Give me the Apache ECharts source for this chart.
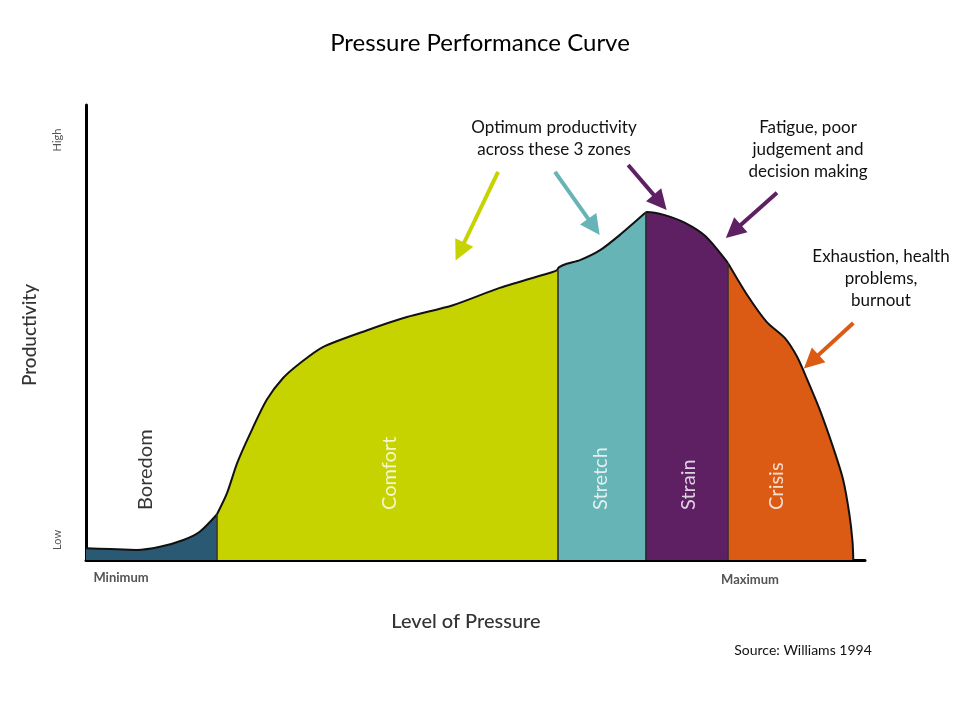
<!DOCTYPE html>
<html><head><meta charset="utf-8">
<script src="https://cdn.jsdelivr.net/npm/echarts@6/dist/echarts.min.js"></script>
<style>html,body{margin:0;padding:0;background:#fff}#c{width:960px;height:720px}</style>
</head><body><div id="c"></div>
<script>
// Zone names and colours
const zoneNames = ['Boredom', 'Comfort', 'Stretch', 'Strain', 'Crisis'];
const zoneColors = ['#2a5a73', '#c6d300', '#67b4b7', '#5e1f63', '#dc5b14'];
const zoneLabelColors = ['#000', '#fff', '#fff', '#fff', '#fff'];
// Curve segments [pressure, productivity] (0-100 scale)
const boredomData = [[0,2.6],[3.1,2.4],[6.5,2.2],[9.5,2.9],[12.5,4.4],[14.6,6.2],[16.8,10.0]];
const comfortData = [[16.8,10.0],[18.1,14.7],[19.4,21.3],[21.1,27.9],[23.2,35.2],[25.3,40.0],[27.5,43.3],[30.4,46.8],[36.1,50.5],[41.2,53.4],[47.1,56.0],[53.1,59.8],[59.9,63.3],[60.5,63.7]];
const stretchData = [[60.5,63.7],[60.7,64.3],[61.7,65.1],[63.4,65.9],[66.0,68.1],[68.5,71.4],[71.8,76.3]];
const strainData = [[71.8,76.3],[72.0,76.5],[74.3,75.8],[76.9,74.1],[79.5,71.2],[82.4,65.3]];
const crisisData = [[82.4,65.3],[84.9,58.2],[87.4,52.3],[89.7,48.8],[91.3,44.6],[92.6,39.6],[94.2,33.0],[95.9,24.8],[97.2,17.6],[98.0,10.0],[98.4,4.0],[98.5,0]];
const zoneData = [boredomData, comfortData, stretchData, strainData, crisisData];
// Zone label anchor (text start) positions
const zoneLabelPos = [[7.7,11],[39.0,11],[66.0,11],[77.3,11],[88.6,11]];
// Arrows [from, to] and colours
const arrows = [
  [[52.9,85.3],[48.0,67.8]],
  [[60.2,85.3],[65.2,73.2]],
  [[69.6,86.8],[73.7,78.6]],
  [[88.7,80.7],[83.1,72.2]],
  [[98.5,52.1],[93.1,43.6]]
];
const arrowColors = ['#c6d300', '#67b4b7', '#5e1f63', '#5e1f63', '#dc5b14'];
// Annotation texts
const notes = [
  {lines:['Optimum productivity','across these 3 zones'], x:554, y:128},
  {lines:['Fatigue, poor','judgement and','decision making'], x:808, y:128},
  {lines:['Exhaustion, health','problems,','burnout'], x:881, y:257}
];
const FONT = 'Lato, "Open Sans", sans-serif';

const series = [];
zoneData.forEach((d, i) => {
  const s = {
    type: 'line', data: d, showSymbol: false, smooth: 0.25, z: 2,
    lineStyle: {color: '#111', width: 2},
    areaStyle: {color: zoneColors[i], opacity: 1},
    silent: true
  };
  if (i < zoneData.length - 1) {
    const last = d[d.length - 1];
    s.markLine = {
      silent: true, symbol: 'none', label: {show: false},
      lineStyle: {color: '#2b2b2b', width: 1.5, type: 'solid'},
      data: [[{coord: [last[0], 0]}, {coord: [last[0], last[1]]}]]
    };
  }
  series.push(s);
});
series.push({
  type: 'scatter', symbolSize: 0, z: 5,
  data: zoneNames.map((n, i) => ({value: zoneLabelPos[i], name: n, label: {color: zoneLabelColors[i]}})),
  label: {show: true, position: 'inside', rotate: 90, align: 'left', verticalAlign: 'middle',
          formatter: p => p.name, fontSize: 20, fontFamily: FONT}
});
series.push({
  type: 'lines', coordinateSystem: 'cartesian2d', z: 6,
  symbol: ['none', 'triangle'], symbolSize: 20,
  data: arrows.map((a, i) => ({coords: a, lineStyle: {color: arrowColors[i]}})),
  lineStyle: {width: 4, opacity: 1, curveness: 0}
});

const graphics = [
  {type:'text', left:'center', top: 31, style:{text:'Pressure Performance Curve', font:'24px ' + FONT, fill:'#000'}},
  {type:'text', x: 30, y: 335, rotation: Math.PI/2, style:{text:'Productivity', font:'500 19px ' + FONT, fill:'#333', textAlign:'center', textVerticalAlign:'middle'}},
  {type:'text', x: 466, y: 622, style:{text:'Level of Pressure', font:'500 20px ' + FONT, fill:'#333', textAlign:'center', textVerticalAlign:'middle'}},
  {type:'text', x: 57, y: 140, rotation: Math.PI/2, style:{text:'High', font:'11px ' + FONT, fill:'#555', textAlign:'center', textVerticalAlign:'middle'}},
  {type:'text', x: 57, y: 540, rotation: Math.PI/2, style:{text:'Low', font:'11px ' + FONT, fill:'#555', textAlign:'center', textVerticalAlign:'middle'}},
  {type:'text', x: 121, y: 578, style:{text:'Minimum', font:'bold 13px ' + FONT, fill:'#555', textAlign:'center', textVerticalAlign:'middle'}},
  {type:'text', x: 750, y: 580, style:{text:'Maximum', font:'bold 13px ' + FONT, fill:'#555', textAlign:'center', textVerticalAlign:'middle'}},
  {type:'text', x: 803, y: 650, style:{text:'Source: Williams 1994', font:'14px ' + FONT, fill:'#111', textAlign:'center', textVerticalAlign:'middle'}}
];
notes.forEach(n => n.lines.forEach((t, k) => graphics.push({
  type:'text', x: n.x, y: n.y + k*22,
  style:{text: t, font:'17px ' + FONT, fill:'#111', textAlign:'center', textVerticalAlign:'middle'}
})));

const chart = echarts.init(document.getElementById('c'));
chart.setOption({
  animation: false,
  backgroundColor: '#fff',
  grid: {left: 86, right: 95, top: 105, bottom: 160},
  xAxis: {type: 'value', min: 0, max: 100, axisLine: {show: true, onZero: false, lineStyle: {color: '#000', width: 3}},
          axisTick: {show: false}, axisLabel: {show: false}, splitLine: {show: false}},
  yAxis: {type: 'value', min: 0, max: 100, axisLine: {show: true, onZero: false, lineStyle: {color: '#000', width: 3}},
          axisTick: {show: false}, axisLabel: {show: false}, splitLine: {show: false}},
  graphic: graphics,
  series: series
});
</script></body></html>
